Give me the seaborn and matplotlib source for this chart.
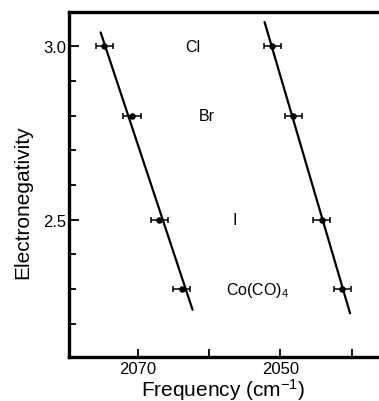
import numpy as np
import pandas as pd
import matplotlib
matplotlib.use("Agg")
import matplotlib.pyplot as plt
import seaborn as sns

# ---- data ----
electroneg = [3.0, 2.8, 2.5, 2.3]
freq_left = [2074.7, 2070.8, 2067.0, 2063.8]
freq_right = [2051.1, 2048.2, 2044.2, 2041.3]
freq_err = [1.2, 1.2, 1.2, 1.2]

fit_left_freq = [2075.2, 2062.3]
fit_left_en = [3.04, 2.24]
fit_right_freq = [2052.2, 2040.2]
fit_right_en = [3.07, 2.23]

labels = ["Cl", "Br", "I", "Co(CO)$_4$"]
label_freq = [2063.4, 2061.4, 2056.7, 2057.6]

xticks = [2070, 2060, 2050, 2040]
xticklabels = ["2070", "", "2050", ""]
yticks_major = [2.5, 3.0]
yticks_minor = [2.2, 2.3, 2.4, 2.6, 2.7, 2.8, 2.9]

sns.set_theme(style="white")
plt.rcParams["font.family"] = ["Liberation Sans", "DejaVu Sans"]
plt.rcParams["mathtext.default"] = "regular"

fig = plt.figure(figsize=(3.79, 4.02), dpi=100)
W, H = 379, 402
ax_l, ax_r, ax_t, ax_b = 69.3, 390.0, 13.3, 358.0
ax = fig.add_axes([ax_l / W, 1 - ax_b / H, (ax_r - ax_l) / W, (ax_b - ax_t) / H])

pts = pd.DataFrame({
    "freq": freq_left + freq_right,
    "en": electroneg + electroneg,
})
fits = pd.DataFrame({
    "freq": fit_left_freq + fit_right_freq,
    "en": fit_left_en + fit_right_en,
    "series": ["L", "L", "R", "R"],
})

sns.lineplot(data=fits, x="freq", y="en", units="series", estimator=None,
             color="black", linewidth=1.6, ax=ax, sort=False)
ax.errorbar(freq_left, electroneg, xerr=freq_err, fmt="none", ecolor="black",
            elinewidth=1.1, capsize=2.5, capthick=1.1)
ax.errorbar(freq_right, electroneg, xerr=freq_err, fmt="none", ecolor="black",
            elinewidth=1.1, capsize=2.5, capthick=1.1)
sns.scatterplot(data=pts, x="freq", y="en", color="black", s=22,
                edgecolor="black", linewidth=0, ax=ax, zorder=5)

for lab, f, e in zip(labels, label_freq, electroneg):
    ax.text(f, e, lab, ha="left", va="center", fontsize=11.5, color="black")

ax.set_xlim(2079.6, 2034.6)
ax.set_ylim(2.104, 3.098)

ax.set_xticks(xticks)
ax.set_xticklabels(xticklabels)
ax.set_yticks(yticks_major)
ax.set_yticklabels(["2.5", "3.0"])
ax.set_yticks(yticks_minor, minor=True)

ax.tick_params(axis="both", which="major", direction="in", length=7, width=1.3,
               labelsize=12, color="black", labelcolor="black", pad=2,
               left=True, bottom=True)
ax.tick_params(axis="y", which="minor", direction="in", length=5, width=1.3,
               color="black", left=True)
ax.tick_params(axis="x", which="major", length=6, pad=3)

for side in ["left", "bottom", "top", "right"]:
    ax.spines[side].set_visible(True)
    ax.spines[side].set_color("black")
    ax.spines[side].set_linewidth(2.4)

ax.set_xlabel("Frequency (cm$^{-1}$)", fontsize=15, color="black")
ax.set_ylabel("Electronegativity", fontsize=15, color="black")
ax.xaxis.set_label_coords(0.479, -0.055)
ax.yaxis.set_label_coords(-0.115, 0.451)
ax.grid(False)

fig.savefig("out.png", dpi=100)
